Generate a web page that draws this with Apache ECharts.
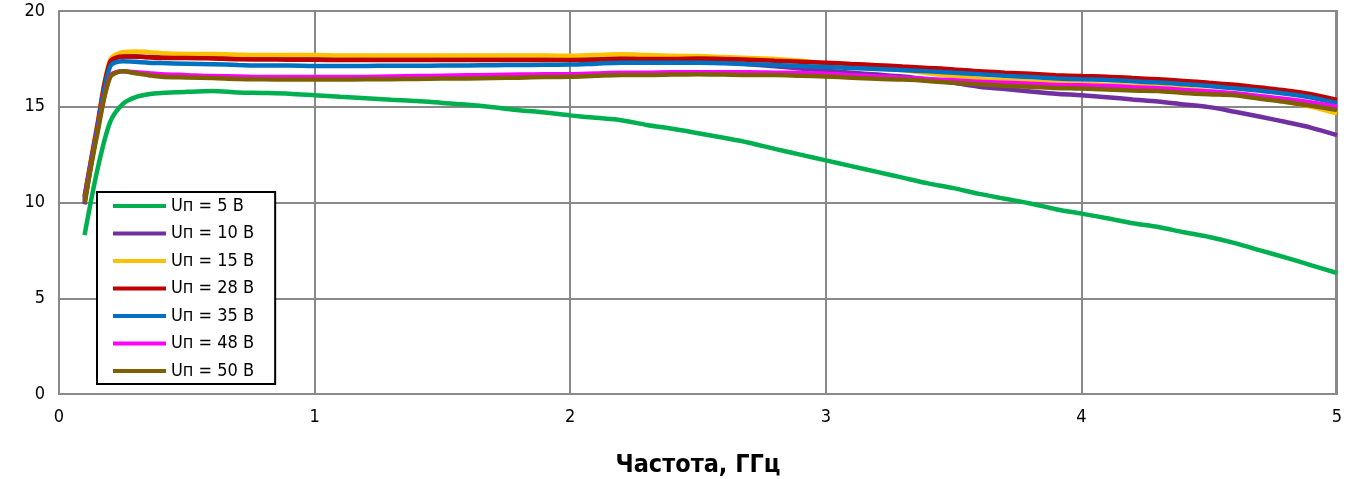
<!DOCTYPE html>
<html><head><meta charset="utf-8">
<script src="https://cdn.jsdelivr.net/npm/echarts@6/dist/echarts.min.js"></script>
<style>html,body{margin:0;padding:0;background:#fff}#c{width:1347px;height:479px}</style>
</head><body><div id="c"></div>
<script>
const freq = [0.1,0.15,0.2,0.25,0.3,0.35,0.4,0.5,0.6,0.7,0.8,0.9,1.0,1.1,1.2,1.3,1.4,1.5,1.6,1.7,1.8,1.9,2.0,2.1,2.2,2.3,2.4,2.5,2.6,2.7,2.8,2.9,3.0,3.1,3.2,3.3,3.4,3.5,3.6,3.7,3.8,3.9,4.0,4.1,4.2,4.3,4.4,4.5,4.6,4.7,4.8,4.9,5.0];
const u5  = [8.3,11.7,14.2,15.15,15.5,15.65,15.72,15.78,15.82,15.75,15.72,15.68,15.6,15.52,15.45,15.37,15.3,15.2,15.1,14.97,14.82,14.7,14.55,14.42,14.3,14.05,13.85,13.62,13.38,13.12,12.8,12.5,12.2,11.9,11.6,11.3,11.0,10.75,10.45,10.2,9.95,9.65,9.42,9.18,8.92,8.72,8.45,8.2,7.88,7.5,7.12,6.72,6.32];
const u10 = [9.9,13.9,17.3,17.62,17.62,17.6,17.6,17.6,17.6,17.6,17.6,17.6,17.6,17.6,17.6,17.6,17.6,17.6,17.6,17.6,17.6,17.6,17.6,17.6,17.6,17.55,17.5,17.4,17.32,17.22,17.12,17.0,16.88,16.78,16.68,16.58,16.42,16.25,16.05,15.92,15.8,15.68,15.6,15.5,15.38,15.27,15.12,14.98,14.74,14.48,14.2,13.9,13.52];
const u15 = [10.3,14.1,17.45,17.85,17.88,17.85,17.8,17.76,17.75,17.72,17.7,17.7,17.7,17.68,17.68,17.68,17.68,17.68,17.68,17.68,17.68,17.67,17.66,17.7,17.74,17.7,17.66,17.65,17.6,17.55,17.5,17.4,17.25,17.1,17.0,16.9,16.75,16.6,16.45,16.38,16.32,16.25,16.2,16.14,16.1,16.05,15.95,15.82,15.65,15.45,15.25,15.0,14.65];
const u28 = [10.3,14.0,17.35,17.62,17.62,17.58,17.55,17.55,17.52,17.48,17.47,17.46,17.45,17.44,17.44,17.44,17.44,17.44,17.44,17.44,17.44,17.44,17.44,17.46,17.5,17.5,17.5,17.52,17.5,17.46,17.4,17.35,17.3,17.23,17.17,17.1,17.03,16.95,16.85,16.78,16.72,16.65,16.6,16.57,16.5,16.43,16.35,16.25,16.15,16.0,15.85,15.65,15.35];
const u35 = [10.2,13.9,17.1,17.38,17.35,17.3,17.28,17.25,17.22,17.18,17.15,17.15,17.13,17.13,17.13,17.14,17.14,17.15,17.16,17.17,17.18,17.19,17.2,17.25,17.3,17.3,17.3,17.3,17.27,17.22,17.18,17.13,17.08,17.02,16.97,16.92,16.85,16.78,16.7,16.62,16.55,16.48,16.43,16.4,16.33,16.26,16.18,16.08,15.96,15.83,15.68,15.48,15.18];
const u48 = [10.1,13.7,16.6,16.85,16.8,16.75,16.7,16.65,16.6,16.58,16.55,16.55,16.55,16.55,16.56,16.58,16.6,16.62,16.64,16.66,16.68,16.7,16.7,16.74,16.78,16.78,16.8,16.8,16.8,16.8,16.78,16.76,16.72,16.65,16.58,16.52,16.45,16.38,16.3,16.25,16.2,16.14,16.12,16.08,16.02,15.96,15.88,15.8,15.7,15.55,15.4,15.22,15.0];
const u50 = [10.0,13.6,16.55,16.85,16.75,16.65,16.57,16.53,16.5,16.45,16.43,16.42,16.42,16.42,16.43,16.44,16.45,16.47,16.48,16.5,16.52,16.55,16.57,16.62,16.66,16.66,16.68,16.7,16.68,16.66,16.66,16.62,16.58,16.52,16.46,16.42,16.35,16.25,16.17,16.1,16.05,15.98,15.95,15.9,15.85,15.82,15.72,15.65,15.6,15.42,15.25,15.05,14.83];
const names = ['Uп = 5 В','Uп = 10 В','Uп = 15 В','Uп = 28 В','Uп = 35 В','Uп = 48 В','Uп = 50 В'];
const colors = ['#00B050','#7030A0','#FFC000','#C00000','#0070C0','#FF00FF','#7F6000'];
const xTicks = ['0','1','2','3','4','5'];
const yTicks = ['0','5','10','15','20'];
const xTitle = 'Частота, ГГц';

const FONT = '"Liberation Sans Narrow","Arial Narrow","DejaVu Sans Condensed",sans-serif';
const all = [u5,u10,u15,u28,u35,u48,u50];
const chart = echarts.init(document.getElementById('c'));
chart.setOption({
  animation:false,
  backgroundColor:'#fff',
  grid:{left:59,right:10,top:11,bottom:85,containLabel:false,outerBoundsMode:'none'},
  legend:{
    orient:'vertical', left:97, top:192,
    data:names.map(n=>({name:n})),
    icon:'rect', itemWidth:53, itemHeight:4, itemGap:7.5,
    padding:[4,21,3,16],
    borderColor:'#000', borderWidth:2, backgroundColor:'#fff',
    textStyle:{fontFamily:FONT,fontSize:18,color:'#000',lineHeight:20,padding:[0,0,0,0]},
    selectedMode:false
  },
  xAxis:{
    type:'value', min:0, max:5, interval:1,
    name:xTitle, nameLocation:'middle', nameGap:59,
    nameTextStyle:{fontFamily:FONT,fontSize:25,fontWeight:'bold',color:'#000'},
    axisLine:{show:true,lineStyle:{color:'#898989',width:2}},
    axisTick:{show:false},
    axisLabel:{fontFamily:FONT,fontSize:18,color:'#000',margin:14,formatter:v=>xTicks[Math.round(v)]},
    splitLine:{show:true,lineStyle:{color:'#898989',width:2}}
  },
  yAxis:{
    type:'value', min:0, max:20, interval:5,
    axisLine:{show:true,lineStyle:{color:'#898989',width:2}},
    axisTick:{show:false},
    axisLabel:{fontFamily:FONT,fontSize:18,color:'#000',margin:14,formatter:v=>yTicks[Math.round(v/5)]},
    splitLine:{show:true,lineStyle:{color:'#898989',width:2}}
  },
  series: all.map((arr,i)=>({
    name:names[i], type:'line', data:freq.map((f,j)=>[f,arr[j]]),
    showSymbol:false, symbol:'none', smooth:0.3,
    itemStyle:{color:colors[i]},
    lineStyle:{color:colors[i],width:4.5}
  }))
});
chart.setOption({graphic:[{type:'rect',shape:{x:1336,y:11,width:1,height:383},style:{fill:'none',stroke:'#898989',lineWidth:2},silent:true,z:-1}]});
</script></body></html>
